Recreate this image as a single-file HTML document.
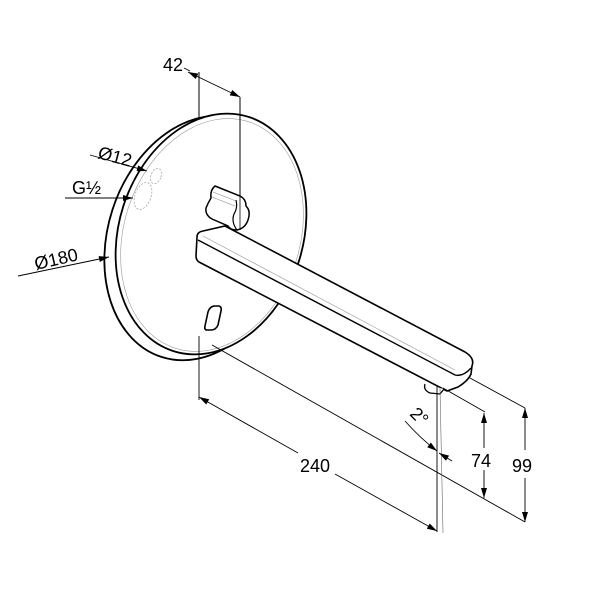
<!DOCTYPE html>
<html><head><meta charset="utf-8"><style>html,body{margin:0;padding:0;background:#fff}svg{display:block}</style></head>
<body>
<svg width="608" height="608" viewBox="0 0 608 608" xmlns="http://www.w3.org/2000/svg" font-family="Liberation Sans, DejaVu Sans, sans-serif">
<defs>
<marker id="a" viewBox="0 0 10 6" refX="10" refY="3" markerWidth="11" markerHeight="6" orient="auto-start-reverse" markerUnits="userSpaceOnUse"><path d="M0,0L10,3L0,6Z" fill="#000"/></marker>
</defs>
<rect width="608" height="608" fill="#fff"/>
<g stroke="#000" fill="none" stroke-width="1">
<line x1="199" y1="72" x2="199" y2="130"/>
</g>
<!-- disc -->
<ellipse cx="200" cy="238" rx="92" ry="125" transform="rotate(18 200 238)" fill="#fff" stroke="#000" stroke-width="1.8"/>
<ellipse cx="211" cy="234" rx="92" ry="123" transform="rotate(18 211 234)" fill="#fff" stroke="#000" stroke-width="1.8"/>
<ellipse cx="212" cy="235" rx="88" ry="119" transform="rotate(18 212 235)" fill="none" stroke="#999" stroke-width="0.6"/>
<g stroke="#000" fill="none" stroke-width="1">
<line x1="240" y1="97" x2="240" y2="208"/>
<ellipse cx="143" cy="196" rx="8" ry="14" transform="rotate(20 143 196)" stroke="#999" stroke-dasharray="2 1.5" stroke-width="0.7"/>
<ellipse cx="156" cy="176" rx="5" ry="8" transform="rotate(20 156 176)" stroke="#999" stroke-dasharray="2 1.5" stroke-width="0.7"/>
</g>
<!-- sensor -->
<path d="M208,312 Q210,306 215,306 L219,306 Q222,307 221,311 L218,325 Q216,330 211,330 L207,330 Q204,330 205,326 Z" fill="#fff" stroke="#000" stroke-width="1.6"/>
<!-- knob -->
<path d="M215,186 L240,196 Q246,199 246,206 Q250,210 249,216 Q247,228 237,230 Q230,230 228,226 L212,219 Q205,215 206,208 Q208,203 211,198 Q210,190 215,186 Z" fill="#fff" stroke="#000" stroke-width="1.5"/>
<path d="M237,230 Q231,222 234,214 Q238,208 236,200" fill="none" stroke="#000" stroke-width="1.2"/>
<g stroke="#888" stroke-width="0.6"><line x1="213" y1="192" x2="236" y2="201"/><line x1="212" y1="197" x2="235" y2="206"/></g>
<line x1="240" y1="175" x2="240" y2="230" stroke="#000" stroke-width="0.8"/>
<!-- spout -->
<path d="M197,237 Q197,232 203,231 L225,226 L465,352 Q475,358 472,366 L471,374 Q468,381 458,387 L447,391 L199,262 Q196,260 196,256 Z" fill="#fff" stroke="#000" stroke-width="1.6"/>
<path d="M198,240 L455,375 Q463,377 471,368" fill="none" stroke="#000" stroke-width="1.4"/>
<line x1="203" y1="236" x2="455" y2="370" stroke="#999" stroke-width="0.6"/>
<path d="M425,384 Q423,390 430,393 L440,394 L444,389" fill="#fff" stroke="#000" stroke-width="1.3"/>
<g stroke="#000" fill="none" stroke-width="0.9">
<line x1="184" y1="68" x2="190" y2="71"/>
<line x1="188" y1="72" x2="240" y2="97" marker-start="url(#a)" marker-end="url(#a)"/>
<line x1="90" y1="155" x2="147" y2="171" marker-end="url(#a)"/>
<line x1="65" y1="198" x2="133" y2="198" marker-end="url(#a)"/>
<line x1="18" y1="276" x2="109" y2="257" marker-end="url(#a)"/>
<line x1="199" y1="336" x2="199" y2="400"/>
<line x1="212" y1="345" x2="525" y2="522"/>
<line x1="199" y1="397" x2="298" y2="453" marker-start="url(#a)"/>
<line x1="335" y1="474" x2="437" y2="531" marker-end="url(#a)"/>
<line x1="437" y1="386" x2="437" y2="532"/>
<line x1="440" y1="388" x2="443" y2="533" stroke="#666" stroke-width="0.6"/>
<line x1="443" y1="388" x2="485" y2="412"/>
<line x1="484" y1="413" x2="484" y2="448" marker-start="url(#a)"/>
<line x1="484" y1="470" x2="484" y2="498" marker-end="url(#a)"/>
<line x1="470" y1="378" x2="525" y2="408"/>
<line x1="525" y1="408" x2="525" y2="450" marker-start="url(#a)"/>
<line x1="525" y1="478" x2="525" y2="522" marker-end="url(#a)"/>
<path d="M405,421 Q420,438 437,451" marker-end="url(#a)"/>
<line x1="452" y1="461" x2="439" y2="453" marker-end="url(#a)"/>
</g>
<g font-size="18" fill="#000">
<text x="163" y="71">42</text>
<text x="97" y="158" transform="rotate(15 97 158)">Ø12</text>
<text x="72" y="194">G½</text>
<text x="36" y="270" transform="rotate(-13 36 270)">Ø180</text>
<text x="300" y="472">240</text>
<text x="471" y="467">74</text>
<text x="512" y="472">99</text>
<text x="410" y="420" transform="rotate(45 416 416)">2°</text>
</g>
</svg>
</body></html>
